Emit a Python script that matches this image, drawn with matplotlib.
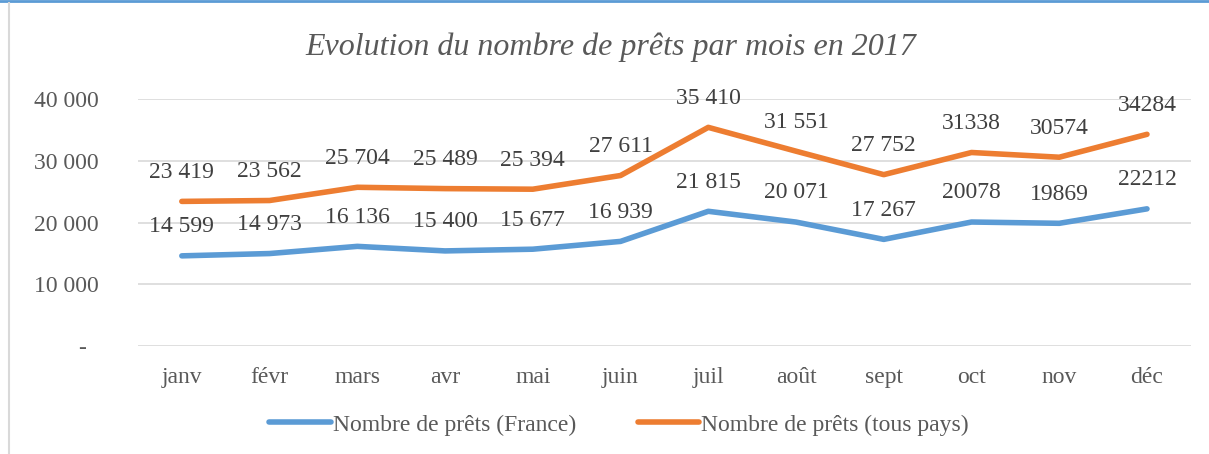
import numpy as np
import matplotlib.pyplot as plt
from matplotlib.lines import Line2D

# données 2017
mois = ["janv", "févr", "mars", "avr", "mai", "juin", "juil", "août", "sept", "oct", "nov", "déc"]
france = [14599, 14973, 16136, 15400, 15677, 16939, 21815, 20071, 17267, 20078, 19869, 22212]
tous_pays = [23419, 23562, 25704, 25489, 25394, 27611, 35410, 31551, 27752, 31338, 30574, 34284]
labels_france = ["14 599", "14 973", "16 136", "15 400", "15 677", "16 939", "21 815", "20 071", "17 267", "20078", "19869", "22212"]
labels_tous = ["23 419", "23 562", "25 704", "25 489", "25 394", "27 611", "35 410", "31 551", "27 752", "31338", "30574", "34284"]
yticks = [0, 10000, 20000, 30000, 40000]
ytick_labels = ["-  ", "10 000", "20 000", "30 000", "40 000"]

blue = "#5B9BD5"
orange = "#ED7D31"
grey = "#595959"

plt.rcParams["font.family"] = ["Liberation Serif", "DejaVu Serif"]

fig = plt.figure(figsize=(12.09, 4.54), dpi=100)
ax = fig.add_axes([0.1141, 0.2379, 0.985 - 0.1141, 0.7819 - 0.2379])

x = np.arange(len(mois))
ax.plot(x, france, color=blue, lw=4, solid_capstyle="round", label="Nombre de prêts (France)")
ax.plot(x, tous_pays, color=orange, lw=4, solid_capstyle="round", label="Nombre de prêts (tous pays)")

for i in range(len(mois)):
    ax.annotate(labels_france[i], (x[i], france[i]), xytext=(0, 21), textcoords="offset points",
                ha="center", va="center", fontsize=17, color="#404040")
    ax.annotate(labels_tous[i], (x[i], tous_pays[i]), xytext=(0, 21), textcoords="offset points",
                ha="center", va="center", fontsize=17, color="#404040")

ax.set_xlim(-0.5, len(mois) - 0.5)
ax.set_ylim(0, 40000)
ax.set_xticks(x)
ax.set_xticklabels(mois)
ax.set_yticks(yticks)
ax.set_yticklabels(ytick_labels)
ax.tick_params(axis="both", length=0, labelsize=17, labelcolor=grey)
ax.tick_params(axis="x", pad=15)
ax.tick_params(axis="y", pad=28)
ax.grid(axis="y", color="#D9D9D9", lw=1.2)
ax.set_axisbelow(True)
for s in ax.spines.values():
    s.set_visible(False)

fig.text(0.505, 0.8965, "Evolution du nombre de prêts par mois en 2017", ha="center", va="center",
         fontsize=23, style="italic", color=grey)

handles = [Line2D([], [], color=blue, lw=4, solid_capstyle="round"),
           Line2D([], [], color=orange, lw=4, solid_capstyle="round")]
fig.legend(handles, ["Nombre de prêts (France)", "Nombre de prêts (tous pays)"],
           loc="center", bbox_to_anchor=(0.512, 0.064), ncol=2, frameon=False,
           fontsize=17, labelcolor=grey, handlelength=2.6, handletextpad=0.1, columnspacing=2.6)

# bordures de la capture
fig.add_artist(Line2D([0, 1], [0.997, 0.997], color=blue, lw=2, transform=fig.transFigure))
fig.add_artist(Line2D([0.0074, 0.0074], [0, 0.993], color="#D9D9D9", lw=1.5, transform=fig.transFigure))

fig.savefig("out.png", dpi=100)
